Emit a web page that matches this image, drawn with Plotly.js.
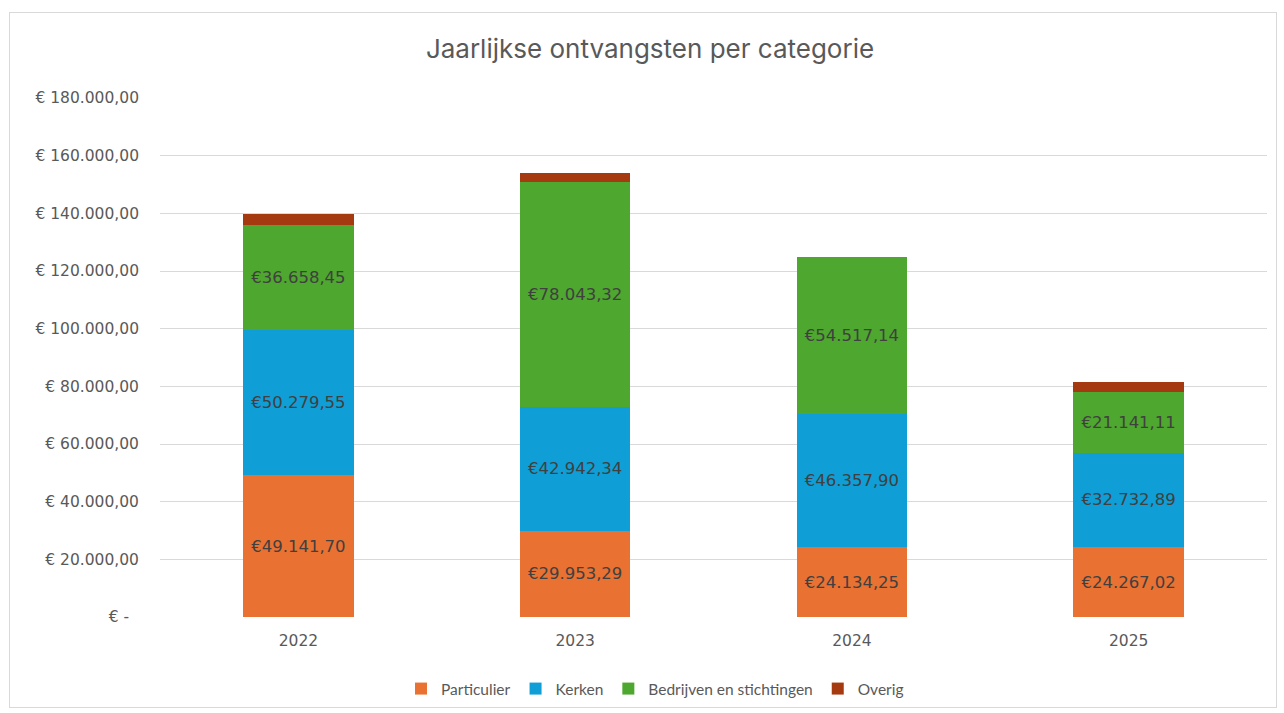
<!DOCTYPE html>
<html>
<head>
<meta charset="utf-8">
<script src="https://cdn.plot.ly/plotly-3.0.1.min.js"></script>
<style>
  html, body { margin: 0; padding: 0; background: #ffffff; }
  #wrap { position: relative; width: 1284px; height: 713px; }
  #chart { position: absolute; left: 0; top: 0; width: 1284px; height: 713px; }
  #frame { position: absolute; left: 9px; top: 12px; width: 1266px; height: 694px; border: 1px solid #d9d9d9; pointer-events: none; }
</style>
</head>
<body>
<div id="wrap">
  <div id="chart"></div>
  <div id="frame"></div>
</div>
<script>
const years = ['2022', '2023', '2024', '2025'];
const particulier = [49141.70, 29953.29, 24134.25, 24267.02];
const kerken = [50279.55, 42942.34, 46357.90, 32732.89];
const bedrijven = [36658.45, 78043.32, 54517.14, 21141.11];
const overig = [3800, 3200, 0, 3200];

const tickValues = [0, 20000, 40000, 60000, 80000, 100000, 120000, 140000, 160000, 180000];
const tickLabels = ['€ -  ', '€ 20.000,00', '€ 40.000,00', '€ 60.000,00', '€ 80.000,00',
  '€ 100.000,00', '€ 120.000,00', '€ 140.000,00', '€ 160.000,00', '€ 180.000,00'];

function euro(v) {
  const parts = v.toFixed(2).split('.');
  const intPart = parts[0].replace(/\B(?=(\d{3})+(?!\d))/g, '.');
  return '€' + intPart + ',' + parts[1];
}

const labelFont = { family: '"DejaVu Sans", sans-serif', size: 16.5, color: '#404040' };

function series(name, vals, color, showText) {
  return {
    type: 'bar', name: name, x: years, y: vals,
    marker: { color: color, line: { width: 0 } },
    text: showText ? vals.map(euro) : undefined,
    textposition: showText ? 'inside' : 'none',
    insidetextanchor: 'middle',
    textangle: 0,
    textfont: labelFont,
    constraintext: 'none',
    hoverinfo: 'name+y'
  };
}

const data = [
  series('Particulier', particulier, '#E97132', true),
  series('Kerken', kerken, '#0F9ED5', true),
  series('Bedrijven en stichtingen', bedrijven, '#4EA72E', true),
  series('Overig', overig, '#A5390F', false)
];

const layout = {
  width: 1284, height: 713,
  paper_bgcolor: '#ffffff', plot_bgcolor: '#ffffff',
  barmode: 'stack', bargap: 0.6,
  margin: { l: 160, r: 17, t: 98, b: 96 },
  title: {
    text: 'Jaarlijkse ontvangsten per categorie',
    font: { family: 'Inter, "Noto Sans", sans-serif', size: 26, color: '#595959' },
    x: 650 / 1284, xanchor: 'center', xref: 'container',
    y: 52, yref: 'container', yanchor: 'middle'
  },
  xaxis: {
    type: 'category',
    tickfont: { family: '"DejaVu Sans", sans-serif', size: 15.5, color: '#595959' },
    showgrid: false, showline: false, ticks: '', ticklabelstandoff: 12
  },
  yaxis: {
    range: [0, 180000],
    tickmode: 'array', tickvals: tickValues, ticktext: tickLabels,
    tickfont: { family: '"DejaVu Sans", sans-serif', size: 15.5, color: '#595959' },
    gridcolor: '#d9d9d9', gridwidth: 1,
    zeroline: false, showline: false, ticks: '', ticklabelstandoff: 20,
    fixedrange: true
  },
  showlegend: true,
  legend: {
    orientation: 'h',
    x: 655 / 1284, xanchor: 'center', xref: 'container',
    y: 24 / 713, yanchor: 'middle', yref: 'container',
    font: { family: 'Lato, sans-serif', size: 15.5, color: '#595959' },
    traceorder: 'normal',
    itemwidth: 30
  }
};

Plotly.newPlot('chart', data, layout, { displayModeBar: false, staticPlot: true });
</script>
</body>
</html>
